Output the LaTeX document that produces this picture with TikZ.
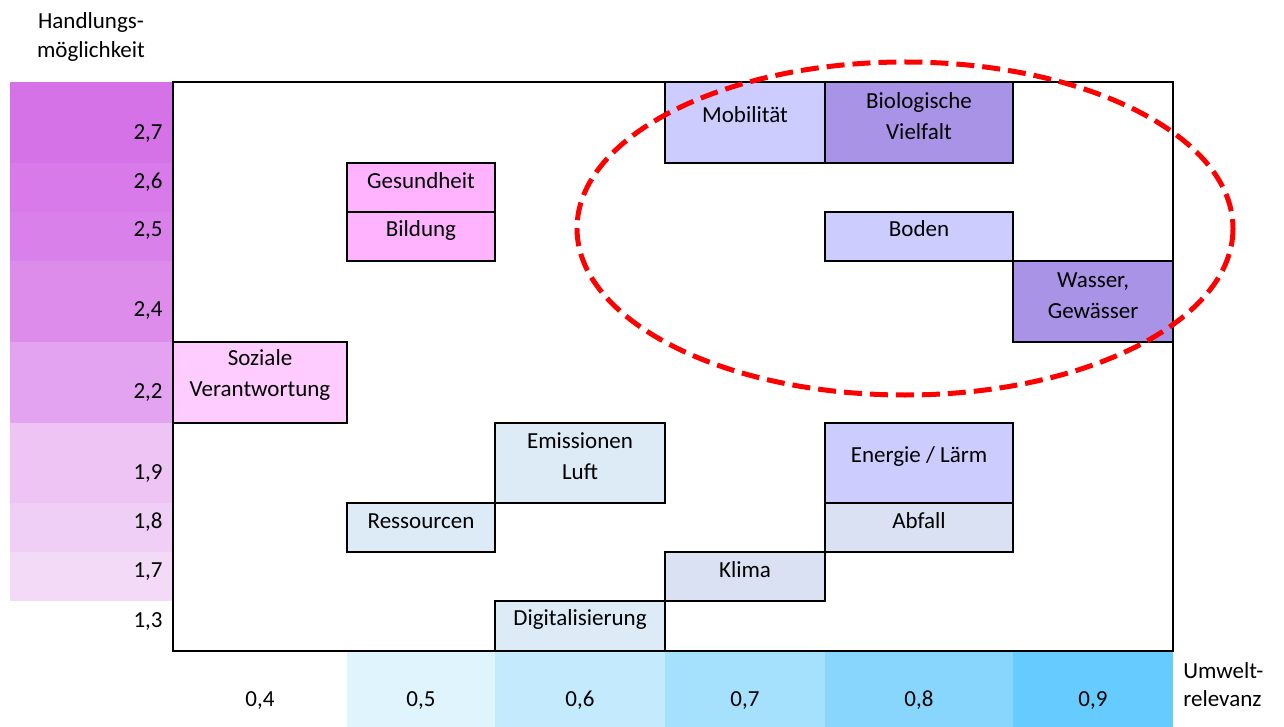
\documentclass[tikz,border=0pt]{standalone}
\usepackage{fontspec}
\setmainfont{Carlito}
\definecolor{lila1}{HTML}{D672E8}
\definecolor{lila2}{HTML}{D87AE9}
\definecolor{lila3}{HTML}{DA80EA}
\definecolor{lila4}{HTML}{DD8CEC}
\definecolor{lila5}{HTML}{E3A3F0}
\definecolor{lila6}{HTML}{EDC4F3}
\definecolor{lila7}{HTML}{F0CFF6}
\definecolor{lila8}{HTML}{F3DBF8}
\definecolor{blau1}{HTML}{E0F4FD}
\definecolor{blau2}{HTML}{C3EAFD}
\definecolor{blau3}{HTML}{A5E0FD}
\definecolor{blau4}{HTML}{88D6FE}
\definecolor{blau5}{HTML}{66CCFF}
\definecolor{rosa}{HTML}{FFB3FF}
\definecolor{hellrosa}{HTML}{FFCCFF}
\definecolor{violett}{HTML}{CCCCFF}
\definecolor{dunkelviolett}{HTML}{A993E6}
\definecolor{eisblau}{HTML}{DDEBF7}
\definecolor{graublau}{HTML}{D9E1F2}
\tikzset{
  txt/.style={inner sep=0pt, text height=7.5pt, text depth=0pt},
  zweizeilig/.style={inner sep=0pt, align=center},
  achse/.style={inner sep=0pt, font=\fontsize{11.5}{14.25}\selectfont},
  kasten/.style={draw=black, line width=1pt}
}
\begin{document}
\begin{tikzpicture}[x=0.5pt, y=-0.5pt, font=\fontsize{11.5}{15.75}\selectfont]
\useasboundingbox (0,0) rectangle (1284,727);
% linke Skala
\fill[lila1] (10,82) rectangle (173,163);
\fill[lila2] (10,163) rectangle (173,212);
\fill[lila3] (10,212) rectangle (173,261);
\fill[lila4] (10,261) rectangle (173,342);
\fill[lila5] (10,342) rectangle (173,423);
\fill[lila6] (10,423) rectangle (173,503);
\fill[lila7] (10,503) rectangle (173,552);
\fill[lila8] (10,552) rectangle (173,601);
\node[txt, anchor=east] (y27) at (163,132.5) {2,7};
\node[txt, anchor=east] (y26) at (163,181) {2,6};
\node[txt, anchor=east] (y25) at (163,229.5) {2,5};
\node[txt, anchor=east] (y24) at (163,309) {2,4};
\node[txt, anchor=east] (y22) at (163,391) {2,2};
\node[txt, anchor=east] (y19) at (163,472) {1,9};
\node[txt, anchor=east] (y18) at (163,521) {1,8};
\node[txt, anchor=east] (y17) at (163,570) {1,7};
\node[txt, anchor=east] (y13) at (163,620) {1,3};
\node[achse, align=center] (handlung) at (91,37) {Handlungs-\\möglichkeit};
% untere Skala
\fill[blau1] (347,651) rectangle (495,727);
\fill[blau2] (495,651) rectangle (665,727);
\fill[blau3] (665,651) rectangle (825,727);
\fill[blau4] (825,651) rectangle (1013,727);
\fill[blau5] (1013,651) rectangle (1173,727);
\node[txt] (x04) at (260,699) {0,4};
\node[txt] (x05) at (421,699) {0,5};
\node[txt] (x06) at (580,699) {0,6};
\node[txt] (x07) at (745,699) {0,7};
\node[txt] (x08) at (919,699) {0,8};
\node[txt] (x09) at (1093,699) {0,9};
\node[achse, align=left, anchor=west] (umwelt) at (1183,684.5) {Umwelt-\\relevanz};
% Felder
\filldraw[kasten, fill=rosa] (347,163) rectangle (495,212);
\filldraw[kasten, fill=rosa] (347,212) rectangle (495,261);
\filldraw[kasten, fill=hellrosa] (173,342) rectangle (347,423);
\filldraw[kasten, fill=violett] (665,82) rectangle (825,163);
\filldraw[kasten, fill=dunkelviolett] (825,82) rectangle (1013,163);
\filldraw[kasten, fill=violett] (825,212) rectangle (1013,261);
\filldraw[kasten, fill=dunkelviolett] (1013,261) rectangle (1173,342);
\filldraw[kasten, fill=eisblau] (495,423) rectangle (665,503);
\filldraw[kasten, fill=eisblau] (347,503) rectangle (495,552);
\filldraw[kasten, fill=violett] (825,423) rectangle (1013,503);
\filldraw[kasten, fill=graublau] (825,503) rectangle (1013,552);
\filldraw[kasten, fill=graublau] (665,552) rectangle (825,601);
\filldraw[kasten, fill=eisblau] (495,601) rectangle (665,651);
\draw[kasten] (173,82) rectangle (1173,651);
\node[txt] (gesundheit) at (421,181) {Gesundheit};
\node[txt] (bildung) at (421,229.5) {Bildung};
\node[zweizeilig] (soziales) at (260,375) {Soziale\\Verantwortung};
\node[txt] (mobil) at (745,115.5) {Mobilität};
\node[zweizeilig] (bio) at (919,116) {Biologische\\Vielfalt};
\node[txt] (boden) at (919,229.5) {Boden};
\node[zweizeilig] (wasser) at (1093,295.5) {Wasser,\\Gewässer};
\node[zweizeilig] (emission) at (580,456) {Emissionen\\Luft};
\node[txt] (ressourcen) at (421,520.5) {Ressourcen};
\node[txt] (energie) at (919,455) {Energie / Lärm};
\node[txt] (abfall) at (919,521) {Abfall};
\node[txt] (klima) at (745,569.5) {Klima};
\node[txt] (digital) at (580,618) {Digitalisierung};
% Markierung
\draw[red, line width=2.5pt, dash pattern=on 9pt off 4pt] (905,228.5) ellipse [x radius=328, y radius=166.5];
\end{tikzpicture}
\end{document}
